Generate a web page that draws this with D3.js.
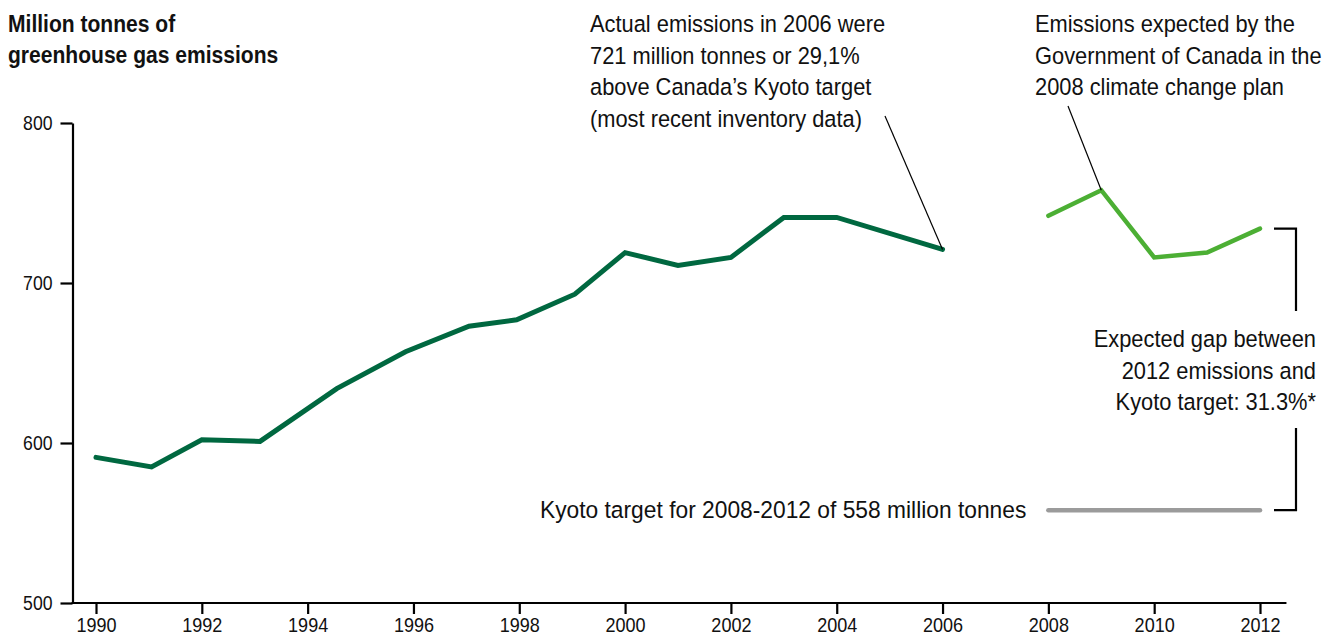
<!DOCTYPE html>
<html>
<head>
<meta charset="utf-8">
<script src="https://cdn.jsdelivr.net/npm/d3@7"></script>
<style>
  html, body { margin: 0; padding: 0; background: #fff; }
  svg { display: block; font-family: "Liberation Sans", Arial, sans-serif; }
  .tick text { font-size: 20.5px; fill: #111; transform-box: fill-box; }
  .xax .tick text { transform-origin: center top; transform: scaleX(0.88); }
  .yax .tick text { transform-origin: right center; transform: scaleX(0.86); }
  .ann { font-size: 23.5px; fill: #111; transform-box: fill-box; }
  .ann.left { transform-origin: left center; transform: scaleX(0.93); }
  .ann.right { transform-origin: right center; transform: scaleX(0.93); }
  .ann.kyoto { transform-origin: right center; transform: scaleX(0.97); }
  .title { font-size: 24.5px; font-weight: bold; fill: #111; transform-box: fill-box; transform-origin: left center; transform: scaleX(0.86); }
</style>
</head>
<body>
<svg id="chart" width="1336" height="636"></svg>
<script>
// Actual emissions (vertices as drawn in the picture)
const actualYears  = [1990, 1991.05, 1992, 1993.1, 1994.55, 1995.85, 1997.05, 1997.95, 1999.05, 2000, 2001, 2002, 2003, 2004, 2006];
const actualValues = [591, 585, 602, 601, 634, 657, 673, 677, 693, 719, 711, 716, 741, 741, 721];

// Government of Canada expected emissions (2008 plan)
const expectedYears  = [2008, 2009, 2010, 2011, 2012];
const expectedValues = [742, 758, 716, 719, 734];

// Kyoto target
const kyotoYears  = [2008, 2012];
const kyotoValues = [558, 558];

// Axis ticks
const xTickValues = [1990, 1992, 1994, 1996, 1998, 2000, 2002, 2004, 2006, 2008, 2010, 2012];
const yTickValues = [500, 600, 700, 800];

const svg = d3.select("#chart");

const x = d3.scaleLinear().domain([1990, 2012]).range([96, 1260]);
const y = d3.scaleLinear().domain([500, 800]).range([603, 123]);
const axisLeftX = 72.5;

// Y axis
const yAxis = d3.axisLeft(y).tickValues(yTickValues).tickSize(12).tickSizeOuter(0).tickPadding(8);
const gy = svg.append("g").attr("class", "yax").attr("transform", `translate(${axisLeftX},0)`).call(yAxis);
gy.select(".domain").attr("stroke", "#000").attr("stroke-width", 2.2);
gy.selectAll(".tick line").attr("stroke", "#000").attr("stroke-width", 2.2);

// X axis
const xAxis = d3.axisBottom(x).tickValues(xTickValues).tickFormat(d3.format("d")).tickSize(11).tickPadding(3);
const gx = svg.append("g").attr("class", "xax").attr("transform", `translate(0,${y(500)})`).call(xAxis);
gx.select(".domain").remove();
gx.selectAll(".tick line").attr("stroke", "#000").attr("stroke-width", 2.2);
gx.append("line")
  .attr("x1", axisLeftX - 1).attr("x2", x(2012.5))
  .attr("y1", 0).attr("y2", 0)
  .attr("stroke", "#000").attr("stroke-width", 2.2);
svg.selectAll(".xax, .yax").attr("font-size", null).attr("font-family", null);

// Lines
const line = d3.line().x(d => x(d[0])).y(d => y(d[1]));

svg.append("path")
  .datum(d3.zip(kyotoYears, kyotoValues))
  .attr("d", line).attr("fill", "none")
  .attr("stroke", "#9b9b9b").attr("stroke-width", 4.5).attr("stroke-linecap", "round");

svg.append("path")
  .datum(d3.zip(actualYears, actualValues))
  .attr("d", line).attr("fill", "none")
  .attr("stroke", "#006840").attr("stroke-width", 5).attr("stroke-linecap", "round").attr("stroke-linejoin", "miter");

svg.append("path")
  .datum(d3.zip(expectedYears, expectedValues))
  .attr("d", line).attr("fill", "none")
  .attr("stroke", "#4caf34").attr("stroke-width", 4.5).attr("stroke-linecap", "round").attr("stroke-linejoin", "miter");

// Title
const title = svg.append("text").attr("class", "title").attr("x", 8).attr("y", 32);
title.append("tspan").attr("x", 8).attr("dy", 0).text("Million tonnes of");
title.append("tspan").attr("x", 8).attr("dy", 31.5).text("greenhouse gas emissions");

function multiline(xPos, yPos, lines, cls) {
  const t = svg.append("text").attr("class", "ann " + cls).attr("x", xPos).attr("y", yPos)
    .attr("text-anchor", cls === "left" ? "start" : "end");
  lines.forEach((s, i) => t.append("tspan").attr("x", xPos).attr("dy", i === 0 ? 0 : 31.6).text(s));
  return t;
}

// Annotation: actual emissions 2006
multiline(590, 32, ["Actual emissions in 2006 were", "721 million tonnes or 29,1%", "above Canada\u2019s Kyoto target", "(most recent inventory data)"], "left");
const last = actualYears.length - 1;
svg.append("line")
  .attr("x1", 885).attr("y1", 116)
  .attr("x2", x(actualYears[last])).attr("y2", y(actualValues[last]))
  .attr("stroke", "#000").attr("stroke-width", 1.2);

// Annotation: expected emissions
multiline(1035, 32, ["Emissions expected by the", "Government of Canada in the", "2008 climate change plan"], "left");
svg.append("line")
  .attr("x1", 1068).attr("y1", 106)
  .attr("x2", x(expectedYears[1])).attr("y2", y(expectedValues[1]))
  .attr("stroke", "#000").attr("stroke-width", 1.2);

// Kyoto label
svg.append("text").attr("class", "ann kyoto")
  .attr("x", x(kyotoYears[0]) - 22).attr("y", y(kyotoValues[0]) + 8)
  .attr("text-anchor", "end")
  .text("Kyoto target for 2008-2012 of 558 million tonnes");

// Gap bracket
const bx = 1296, bl = 1274;
const yTop = y(expectedValues[expectedValues.length - 1]);
const yBot = y(kyotoValues[1]);
svg.append("path")
  .attr("d", `M${bl},${yTop}H${bx}V311 M${bx},428V${yBot}H${bl}`)
  .attr("fill", "none").attr("stroke", "#000").attr("stroke-width", 2.2);

multiline(1316, 347, ["Expected gap between", "2012 emissions and", "Kyoto target: 31.3%*"], "right");
</script>
</body>
</html>
